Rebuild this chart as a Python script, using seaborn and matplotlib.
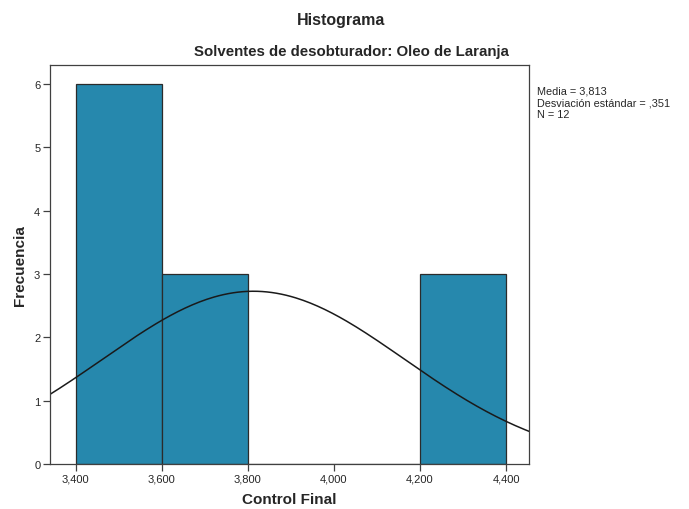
import matplotlib as mpl
mpl.use('Agg')
import matplotlib.pyplot as plt
import numpy as np
import seaborn as sns
from matplotlib.ticker import FuncFormatter

# histogram data (bin edges and counts)
bin_edges = [3.4, 3.6, 3.8, 4.0, 4.2, 4.4]
bin_counts = [6, 3, 0, 0, 3]
media = 3.813
desv = 0.351
n_total = 12

BAR_COLOR = '#2688ad'
SPINE_COLOR = '#404040'

sns.set_style('white')
plt.rcParams['font.family'] = ['Liberation Sans', 'DejaVu Sans']

centers = [(a + b) / 2 for a, b in zip(bin_edges[:-1], bin_edges[1:])]

fig = plt.figure(figsize=(6.89, 5.10), dpi=100)
ax = fig.add_axes([0.0726, 0.0882, 0.6952, 0.7824])

sns.histplot(x=centers, weights=bin_counts, bins=bin_edges, ax=ax,
             color=BAR_COLOR, alpha=1, edgecolor='#2b2b2b', linewidth=0.9)

# normal curve from mean / std dev, scaled to counts
width = bin_edges[1] - bin_edges[0]
xs = np.linspace(3.34, 4.455, 200)
ys = n_total * width / (desv * np.sqrt(2 * np.pi)) * np.exp(-0.5 * ((xs - media) / desv) ** 2)
sns.lineplot(x=xs, y=ys, ax=ax, color='#1a1a1a', lw=1.1)

ax.set_xlim(3.34, 4.4535)
ax.set_ylim(0, 6.3)
ax.set_xticks([3.4, 3.6, 3.8, 4.0, 4.2, 4.4])
ax.set_yticks(range(0, 7))
ax.xaxis.set_major_formatter(FuncFormatter(lambda v, p: '{:.3f}'.format(v).replace('.', ',')))
ax.tick_params(axis='both', direction='out', length=5, width=0.9, color=SPINE_COLOR,
               labelsize=8, pad=2, bottom=True, left=True)
for s in ax.spines.values():
    s.set_color(SPINE_COLOR)
    s.set_linewidth(0.9)

ax.set_xlabel('Control Final', fontsize=11, fontweight='bold', labelpad=6)
ax.set_ylabel('Frecuencia', fontsize=11, fontweight='bold', labelpad=5)

fig.text(0.495, 0.96, 'Histograma', ha='center', va='center', fontsize=11.5, fontweight='bold')
fig.text(0.51, 0.898, 'Solventes de desobturador: Oleo de Laranja', ha='center', va='center',
         fontsize=10.8, fontweight='bold')
fig.text(0.779, 0.797, 'Media = 3,813\nDesviación estándar = ,351\nN = 12', ha='left', va='center',
         fontsize=7.8, linespacing=1.2)

plt.savefig('out.png', dpi=100)
